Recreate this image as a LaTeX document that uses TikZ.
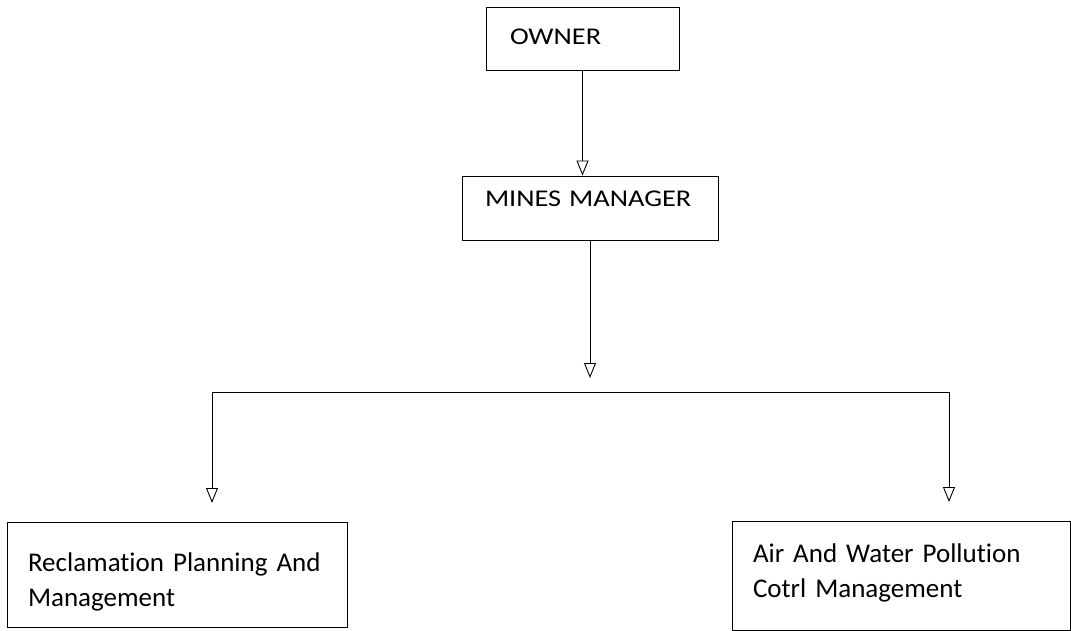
\documentclass[tikz,border=0pt]{standalone}
\usepackage{fontspec}
\setmainfont{Carlito}[Ligatures=NoCommon]
\newfontfamily\widefont{Carlito}[FakeStretch=1.18, Ligatures=NoCommon]
\usetikzlibrary{arrows.meta}
\begin{document}
\begin{tikzpicture}[x=1pt,y=-1pt,
    topbox/.style={draw, line width=0.9pt, align=left, inner ysep=0pt, font=\fontsize{24}{30}\widefont},
    lowbox/.style={draw, line width=0.9pt, align=left, inner ysep=0pt, text width=298pt, inner xsep=21pt, font=\fontsize{27}{35}\selectfont},
    arr/.style={line width=0.9pt, -{Triangle[open, length=15pt, width=12pt, line width=0.9pt]}}]
          \useasboundingbox (0,0) rectangle (1071,631);
          \node[topbox, text width=145pt, inner xsep=24pt, minimum height=63pt, text depth=4pt] (owner) at (582.5,38.5){OWNER};
          \node[topbox, text width=210pt, inner xsep=23pt, minimum height=64pt, text depth=18pt] (manager) at (590,208){MINES MANAGER};
          \node[lowbox, minimum height=105pt, text depth=25pt] (reclaim) at (177,574.5){\mbox{Reclamation Planning And}\\Management};
          \node[lowbox, text width=296pt, minimum height=109pt, text depth=45pt] (pollution) at (901,575.5){\mbox{Air And Water Pollution}\\Cotrl Management};
          \coordinate (split) at (590,378);
          \coordinate (busL) at (212,392);
          \coordinate (busR) at (949,392);
          \coordinate (tipL) at (212,503);
          \coordinate (tipR) at (949,502);
          \draw[arr](owner.south) -- (owner.south |- manager.north);
          \draw[arr](manager.south) -- (split);
          \draw[line width=0.9pt](busL) -- (busR);
          \draw[arr](busL) -- (tipL);
          \draw[arr](busR) -- (tipR);
        \end{tikzpicture}
\end{document}
